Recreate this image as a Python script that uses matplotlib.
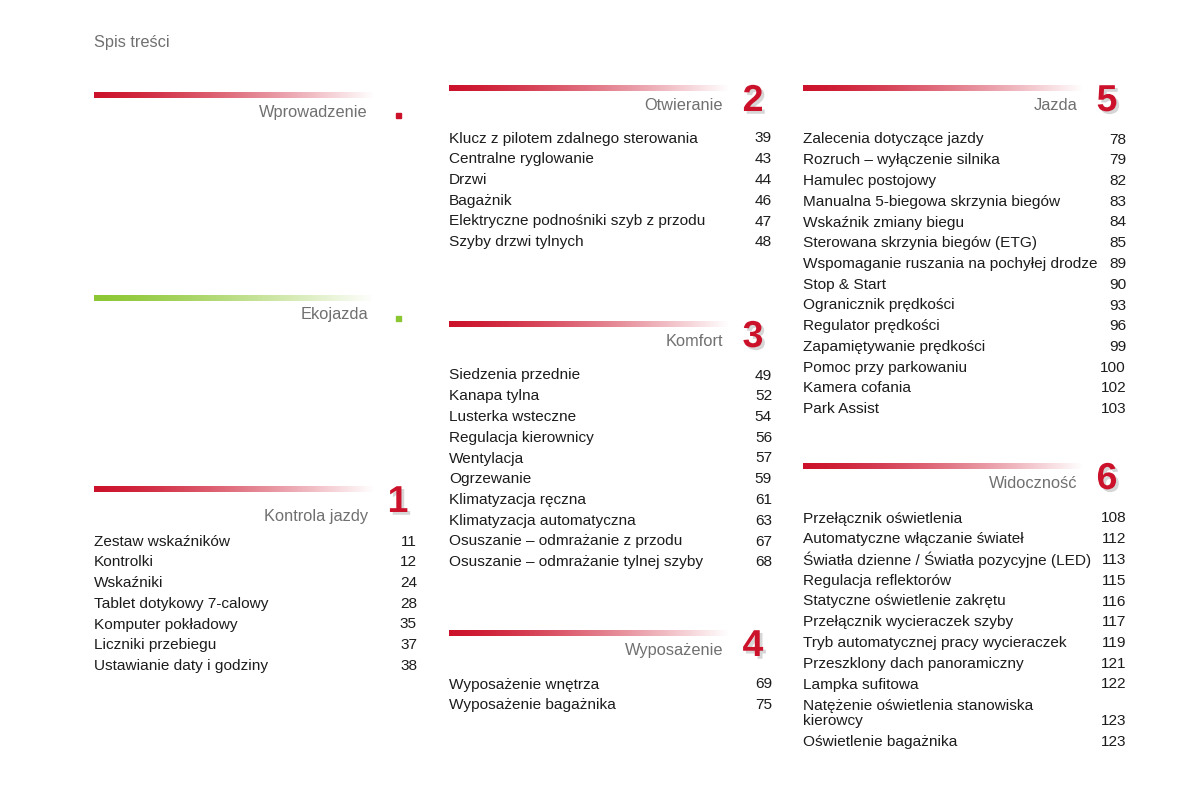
import numpy as np
import matplotlib
matplotlib.use("Agg")
import matplotlib.pyplot as plt
import matplotlib.patheffects as pe

plt.rcParams["font.family"] = ["Liberation Sans", "DejaVu Sans"]

PAGE_TITLE = "Spis treści"

# section data
intro_title = "Wprowadzenie"
eco_title = "Ekojazda"

s1_title = "Kontrola jazdy"
s1_items = ["Zestaw wskaźników", "Kontrolki", "Wskaźniki", "Tablet dotykowy 7-calowy",
            "Komputer pokładowy", "Liczniki przebiegu", "Ustawianie daty i godziny"]
s1_pages = [11, 12, 24, 28, 35, 37, 38]

s2_title = "Otwieranie"
s2_items = ["Klucz z pilotem zdalnego sterowania", "Centralne ryglowanie", "Drzwi", "Bagażnik",
            "Elektryczne podnośniki szyb z przodu", "Szyby drzwi tylnych"]
s2_pages = [39, 43, 44, 46, 47, 48]

s3_title = "Komfort"
s3_items = ["Siedzenia przednie", "Kanapa tylna", "Lusterka wsteczne", "Regulacja kierownicy",
            "Wentylacja", "Ogrzewanie", "Klimatyzacja ręczna", "Klimatyzacja automatyczna",
            "Osuszanie – odmrażanie z przodu", "Osuszanie – odmrażanie tylnej szyby"]
s3_pages = [49, 52, 54, 56, 57, 59, 61, 63, 67, 68]

s4_title = "Wyposażenie"
s4_items = ["Wyposażenie wnętrza", "Wyposażenie bagażnika"]
s4_pages = [69, 75]

s5_title = "Jazda"
s5_items = ["Zalecenia dotyczące jazdy", "Rozruch – wyłączenie silnika", "Hamulec postojowy",
            "Manualna 5-biegowa skrzynia biegów", "Wskaźnik zmiany biegu",
            "Sterowana skrzynia biegów (ETG)", "Wspomaganie ruszania na pochyłej drodze",
            "Stop & Start", "Ogranicznik prędkości", "Regulator prędkości",
            "Zapamiętywanie prędkości", "Pomoc przy parkowaniu", "Kamera cofania", "Park Assist"]
s5_pages = [78, 79, 82, 83, 84, 85, 89, 90, 93, 96, 99, 100, 102, 103]

s6_title = "Widoczność"
s6_items = ["Przełącznik oświetlenia", "Automatyczne włączanie świateł",
            "Światła dzienne / Światła pozycyjne (LED)", "Regulacja reflektorów",
            "Statyczne oświetlenie zakrętu", "Przełącznik wycieraczek szyby",
            "Tryb automatycznej pracy wycieraczek", "Przeszklony dach panoramiczny",
            "Lampka sufitowa", "Natężenie oświetlenia stanowiska\nkierowcy", "Oświetlenie bagażnika"]
s6_pages = [108, 112, 113, 115, 116, 117, 119, 121, 122, 123, 123]

RED = (0.80, 0.07, 0.17)
GREEN = (0.55, 0.78, 0.20)
TEXT = "#1c1c1c"
GREY = "#707070"
ROW = 20.75
FS = 11.05
HFS = 11.8

fig = plt.figure(figsize=(12, 8), dpi=100)
ax = fig.add_axes([0, 0, 1, 1])
ax.set_xlim(0, 1200)
ax.set_ylim(800, 0)
ax.axis("off")


def bar(x0, x1, y, color):
    t = np.linspace(0, 1, 256)
    w = t ** 1.3
    img = np.zeros((1, 256, 3))
    for k in range(3):
        img[0, :, k] = color[k] * (1 - w) + 1.0 * w
    ax.imshow(img, extent=(x0, x1, y + 3, y - 3), aspect="auto", zorder=1)


def header(x0, y, title, num=None, color=RED, ty=17):
    bar(x0, x0 + 280, y, color)
    ax.text(x0 + 274, y + ty, title, ha="right", va="center", fontsize=HFS, color=GREY)
    if num is None:
        ax.add_patch(plt.Rectangle((x0 + 302, y + 18), 5, 5, color=color, zorder=2))
    else:
        ax.text(x0 + 304, y + 13, str(num), ha="center", va="center", fontsize=27,
                fontweight="bold", color=RED,
                path_effects=[pe.SimplePatchShadow(offset=(2, -2), shadow_rgbFace="#999999", alpha=0.4),
                              pe.Normal()])


def entries(x0, y0, items, pages):
    y = y0 + 1.5
    for name, pg in zip(items, pages):
        lines = name.count("\n")
        ax.text(x0, y + lines * 8, name, ha="left", va="center", fontsize=FS, color=TEXT,
                linespacing=1.1)
        ax.text(x0 + 323, y + lines * 16, str(pg), ha="right", va="center", fontsize=FS, color=TEXT)
        y += ROW + lines * 16


ax.text(94, 43, PAGE_TITLE, ha="left", va="center", fontsize=HFS, color=GREY)

# column 1
header(94, 95, intro_title)
header(94, 298, eco_title, color=GREEN)
header(94, 489, s1_title, 1, ty=27)
entries(94, 540, s1_items, s1_pages)

# column 2
header(449, 88, s2_title, 2)
entries(449, 137, s2_items, s2_pages)
header(449, 324, s3_title, 3)
entries(449, 374, s3_items, s3_pages)
header(449, 633, s4_title, 4)
entries(449, 683, s4_items, s4_pages)

# column 3
header(803, 88, s5_title, 5)
entries(803, 138, s5_items, s5_pages)
header(803, 466, s6_title, 6)
entries(803, 517, s6_items, s6_pages)

fig.savefig("out.png", dpi=100, facecolor="white")
